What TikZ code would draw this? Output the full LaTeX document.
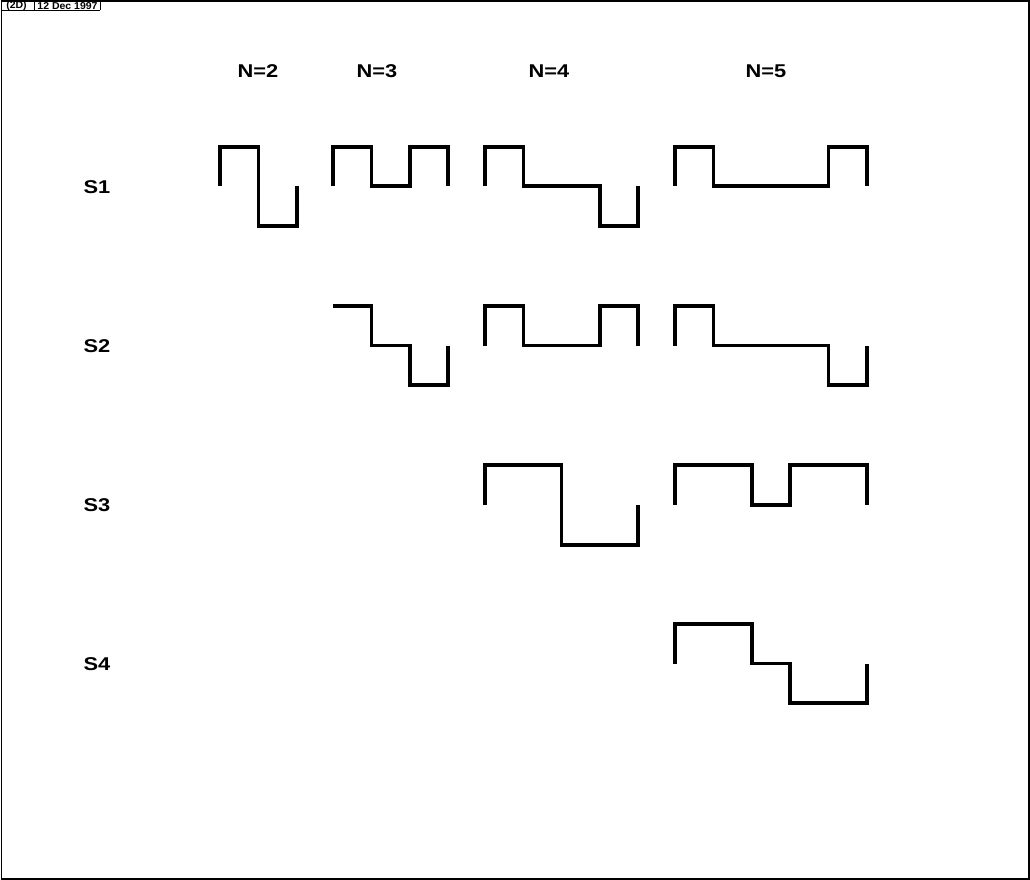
\documentclass[tikz,border=0pt]{standalone}
\usepackage{fontspec}
\setmainfont{Liberation Sans}
\begin{document}
\begin{tikzpicture}[x=1pt,y=-1pt,
  wave/.style={line width=3.2pt,line join=miter},
  frameline/.style={line width=1.8pt},
  lab/.style={font=\fontsize{18.5}{18.5}\selectfont\bfseries,xscale=1.18,inner sep=0pt},
  hdr/.style={font=\fontsize{10}{10}\selectfont\bfseries,xscale=1.05,inner sep=0pt}]
\useasboundingbox (0,0) rectangle (1030,880);
% frame
\draw[frameline] (1.5,1) rectangle (1029,879);
\draw[line width=1.2pt] (1.5,10.5) -- (100,10.5);
\draw[line width=1pt] (34,1) -- (34,10.5);
\draw[line width=1pt] (100,1) -- (100,10.5);
\node[hdr] (h1) at (16.5,6) {(2D)};
\node[hdr] (h2) at (67.5,6) {12 Dec 1997};
% column labels
\node[lab] (n2) at (258,71) {N=2};
\node[lab] (n3) at (377,71) {N=3};
\node[lab] (n4) at (549,71) {N=4};
\node[lab] (n5) at (766,71) {N=5};
% row labels
\node[lab] (s1) at (97,187) {S1};
\node[lab] (s2) at (97,346) {S2};
\node[lab] (s3) at (97,505) {S3};
\node[lab] (s4) at (97,664) {S4};
% S1
\draw[wave] (220,186)--(220,147)--(258.5,147)--(258.5,226)--(297,226)--(297,186);
\draw[wave] (333,186)--(333,147)--(371.5,147)--(371.5,186)--(410,186)--(410,147)--(448,147)--(448,186);
\draw[wave] (485,186)--(485,147)--(523.3,147)--(523.3,186)--(600,186)--(600,226)--(638,226)--(638,186);
\draw[wave] (675,186)--(675,147)--(713.5,147)--(713.5,186)--(828.5,186)--(828.5,147)--(867,147)--(867,186);
% S2
\draw[wave] (333,306)--(371.5,306)--(371.5,345.5)--(410,345.5)--(410,385)--(448,385)--(448,345.5);
\draw[wave] (485,345.5)--(485,306)--(523.3,306)--(523.3,345.5)--(600,345.5)--(600,306)--(638,306)--(638,345.5);
\draw[wave] (675,345.5)--(675,306)--(713.5,306)--(713.5,345.5)--(828.5,345.5)--(828.5,385)--(867,385)--(867,345.5);
% S3
\draw[wave] (485,505)--(485,465)--(561.6,465)--(561.6,545)--(638,545)--(638,505);
\draw[wave] (675,505)--(675,465)--(752,465)--(752,505)--(790,505)--(790,465)--(867,465)--(867,505);
% S4
\draw[wave] (675,663.5)--(675,624)--(752,624)--(752,663.5)--(790,663.5)--(790,703)--(867,703)--(867,663.5);
\end{tikzpicture}
\end{document}
